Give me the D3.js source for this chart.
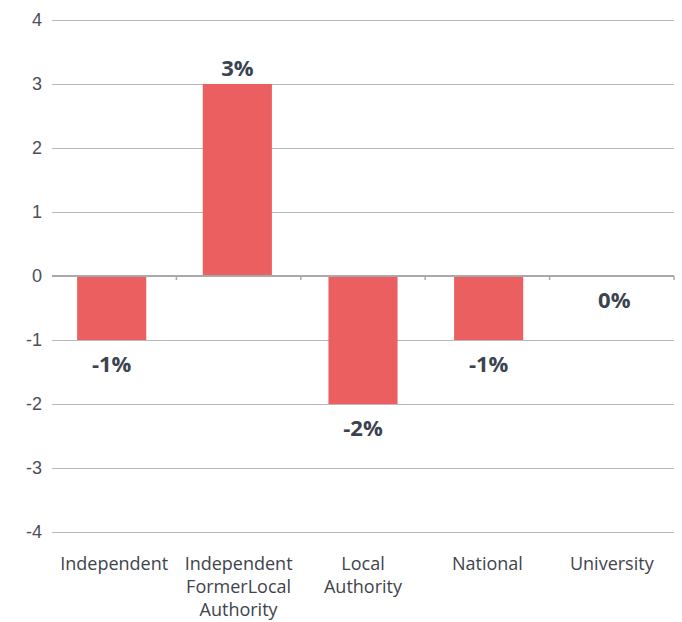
<!DOCTYPE html>
<html>
<head>
<meta charset="utf-8">
<script src="https://cdn.jsdelivr.net/npm/d3@7"></script>
<style>
  body { margin: 0; background: #fff; }
  #chart-area { width: 682px; height: 622px; }
</style>
</head>
<body>
<div id="chart-area"></div>
<script>
// data
var categories = ["Independent", "Independent Former Local Authority", "Local Authority", "National", "University"];
var categoryLines = [["Independent"], ["Independent", "FormerLocal", "Authority"], ["Local", "Authority"], ["National"], ["University"]];
var values = [-1, 3, -2, -1, 0];
var valueLabels = ["-1%", "3%", "-2%", "-1%", "0%"];
var yTicks = [-4, -3, -2, -1, 0, 1, 2, 3, 4];

var margin = { left: 52, right: 8, top: 20, bottom: 90 },
    width = 682 - margin.left - margin.right,
    height = 622 - margin.top - margin.bottom;

var svg = d3.select("#chart-area")
    .append("svg")
    .attr("width", 682)
    .attr("height", 622)
    .style("font-family", "'Open Sans', sans-serif");

var g = svg.append("g")
    .attr("transform", "translate(" + margin.left + "," + margin.top + ")");

// scales
var x = d3.scaleBand().domain(categories).range([0, width]).paddingInner(0.45).paddingOuter(0.2);
var xb = d3.scaleBand().domain(categories).range([0, width]);
var y = d3.scaleLinear().domain([-4, 4]).range([height, 0]);

// gridlines + y labels (plain hyphen for negatives, like the original)
var yAxis = g.append("g")
    .call(d3.axisLeft(y).tickValues(yTicks).tickSize(-width).tickPadding(10)
        .tickFormat(function(d){ return String(d); }));
yAxis.select(".domain").remove();
yAxis.selectAll(".tick line").attr("stroke", "#b8b8b8").attr("stroke-width", 1);
yAxis.selectAll(".tick text")
    .attr("fill", "#4a5059")
    .attr("font-size", "18px")
    .attr("font-weight", 300);

// bars
g.selectAll(".bar")
    .data(values)
    .enter().append("rect")
    .attr("class", "bar")
    .attr("x", function(d, i){ return x(categories[i]); })
    .attr("width", x.bandwidth())
    .attr("y", function(d){ return y(Math.max(0, d)); })
    .attr("height", function(d){ return Math.abs(y(d) - y(0)); })
    .attr("fill", "#ec5f61");

// zero axis with band ticks
var zero = g.append("g").attr("transform", "translate(0," + y(0) + ")");
zero.append("line")
    .attr("x1", 0).attr("x2", width)
    .attr("stroke", "#a9a9a9").attr("stroke-width", 2);
zero.selectAll(".btick")
    .data(categories)
    .enter().append("line")
    .attr("x1", function(d){ return xb(d) + xb.bandwidth(); })
    .attr("x2", function(d){ return xb(d) + xb.bandwidth(); })
    .attr("y1", 0).attr("y2", 4)
    .attr("stroke", "#a9a9a9").attr("stroke-width", 1.5);

// value labels
g.selectAll(".vlabel")
    .data(values)
    .enter().append("text")
    .attr("class", "vlabel")
    .attr("x", function(d, i){ return x(categories[i]) + x.bandwidth() / 2; })
    .attr("y", function(d){ return d > 0 ? y(d) - 8 : y(d) + 32; })
    .attr("text-anchor", "middle")
    .attr("font-size", "22px")
    .attr("font-weight", 700)
    .attr("fill", "#3b4350")
    .text(function(d, i){ return valueLabels[i]; });

// category labels
var cat = g.selectAll(".cat")
    .data(categories)
    .enter().append("text")
    .attr("class", "cat")
    .attr("x", function(d){ return xb(d) + xb.bandwidth() / 2; })
    .attr("y", height + 38)
    .attr("text-anchor", "middle")
    .attr("font-size", "18px")
    .attr("font-weight", 400)
    .attr("fill", "#3e444c");
cat.each(function(d, i){
    var t = d3.select(this);
    categoryLines[i].forEach(function(line, j){
        t.append("tspan")
            .attr("x", xb(d) + xb.bandwidth() / 2)
            .attr("dy", j === 0 ? 0 : 23)
            .text(line);
    });
});
</script>
</body>
</html>
